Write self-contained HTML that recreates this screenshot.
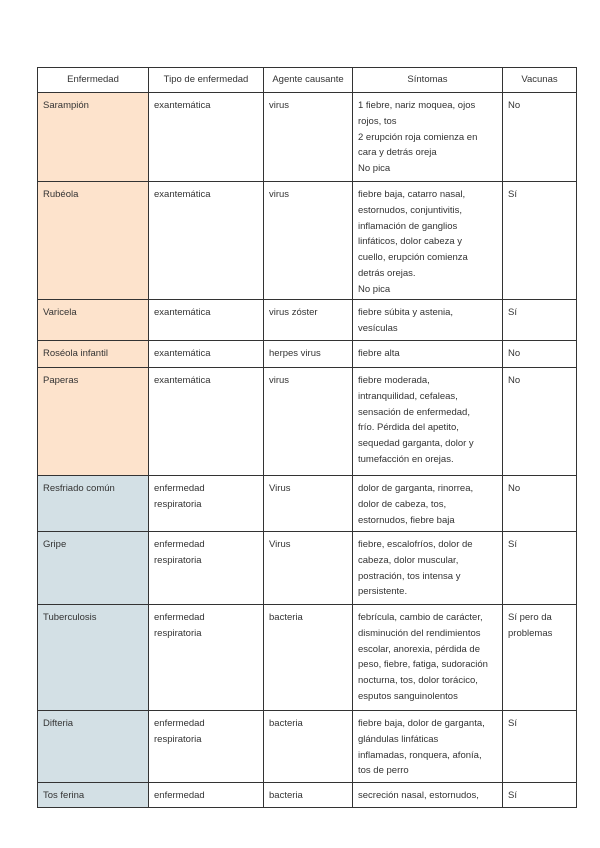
<!DOCTYPE html><html><head><meta charset="utf-8"><style>
body{margin:0;width:600px;height:848px;background:#fff;font-family:"Liberation Sans",sans-serif;font-size:9.5px;color:#333}
table{position:absolute;left:37px;top:67px;border-collapse:collapse;table-layout:fixed}
td{border:1.3px solid #333;vertical-align:top;padding:5px 2px 0 5px;line-height:15.8px;overflow:hidden;white-space:nowrap}
tr.h td{text-align:center;vertical-align:middle;padding:0}
.p{background:#fde3cc}.b{background:#d3e0e5}
</style></head><body>
<table>
<colgroup><col style="width:111px"><col style="width:115px"><col style="width:89px"><col style="width:150px"><col style="width:74px"></colgroup>
<tr class="h" style="height:25px"><td>Enfermedad</td><td>Tipo de enfermedad</td><td>Agente causante</td><td>Síntomas</td><td>Vacunas</td></tr>
<tr style="height:89px"><td class="p">Sarampión</td><td>exantemática</td><td>virus</td><td>1 fiebre, nariz moquea, ojos<br>rojos, tos<br>2 erupción roja comienza en<br>cara y detrás oreja<br>No pica</td><td>No</td></tr>
<tr style="height:118px"><td class="p">Rubéola</td><td>exantemática</td><td>virus</td><td>fiebre baja, catarro nasal,<br>estornudos, conjuntivitis,<br>inflamación de ganglios<br>linfáticos, dolor cabeza y<br>cuello, erupción comienza<br>detrás orejas.<br>No pica</td><td>Sí</td></tr>
<tr style="height:41px"><td class="p">Varicela</td><td>exantemática</td><td>virus zóster</td><td>fiebre súbita y astenia,<br>vesículas</td><td>Sí</td></tr>
<tr style="height:27px"><td class="p">Roséola infantil</td><td>exantemática</td><td>herpes virus</td><td>fiebre alta</td><td>No</td></tr>
<tr style="height:108px"><td class="p">Paperas</td><td>exantemática</td><td>virus</td><td>fiebre moderada,<br>intranquilidad, cefaleas,<br>sensación de enfermedad,<br>frío. Pérdida del apetito,<br>sequedad garganta, dolor y<br>tumefacción en orejas.</td><td>No</td></tr>
<tr style="height:56px"><td class="b">Resfriado común</td><td>enfermedad<br>respiratoria</td><td>Virus</td><td>dolor de garganta, rinorrea,<br>dolor de cabeza, tos,<br>estornudos, fiebre baja</td><td>No</td></tr>
<tr style="height:73px"><td class="b">Gripe</td><td>enfermedad<br>respiratoria</td><td>Virus</td><td>fiebre, escalofríos, dolor de<br>cabeza, dolor muscular,<br>postración, tos intensa y<br>persistente.</td><td>Sí</td></tr>
<tr style="height:106px"><td class="b">Tuberculosis</td><td>enfermedad<br>respiratoria</td><td>bacteria</td><td>febrícula, cambio de carácter,<br>disminución del rendimientos<br>escolar, anorexia, pérdida de<br>peso, fiebre, fatiga, sudoración<br>nocturna, tos, dolor torácico,<br>esputos sanguinolentos</td><td>Sí pero da<br>problemas</td></tr>
<tr style="height:72px"><td class="b">Difteria</td><td>enfermedad<br>respiratoria</td><td>bacteria</td><td>fiebre baja, dolor de garganta,<br>glándulas linfáticas<br>inflamadas, ronquera, afonía,<br>tos de perro</td><td>Sí</td></tr>
<tr style="height:25px"><td class="b">Tos ferina</td><td>enfermedad</td><td>bacteria</td><td>secreción nasal, estornudos,</td><td>Sí</td></tr>
</table>
</body></html>
